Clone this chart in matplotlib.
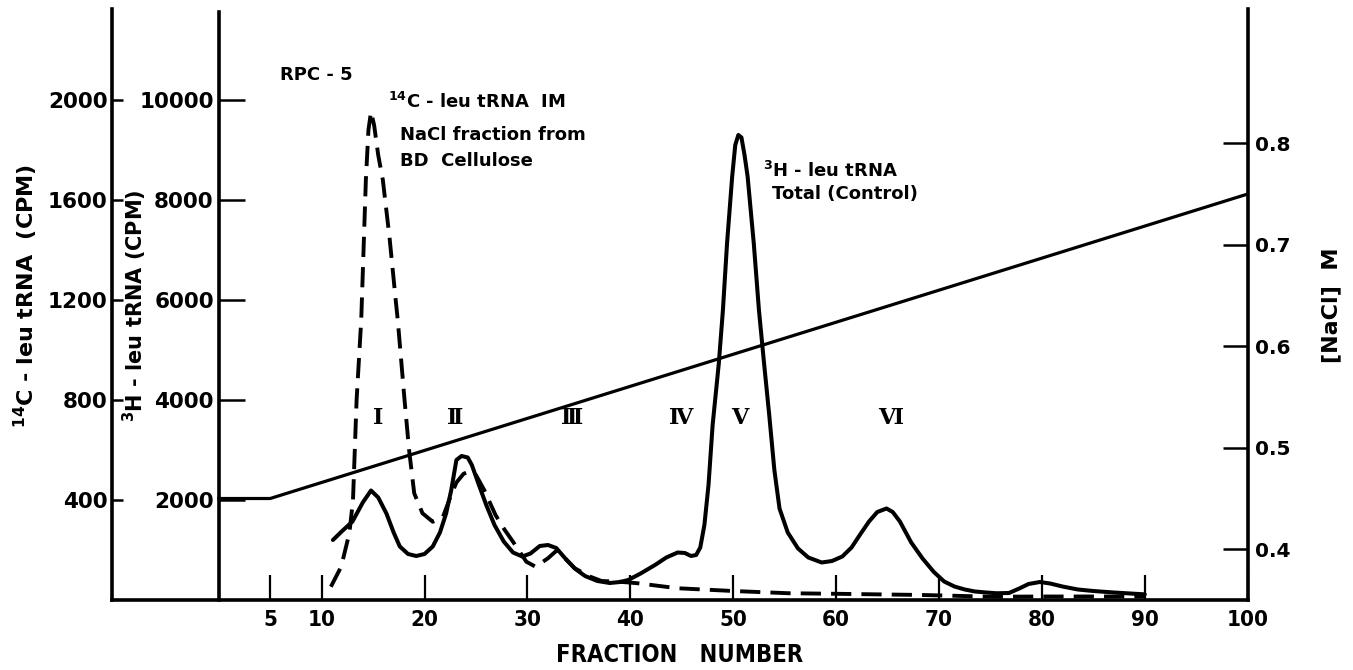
import matplotlib
matplotlib.use("Agg")
import matplotlib.pyplot as plt

# 3H-leu tRNA, total (control), counts per minute by fraction
fractions_3h = [11.1, 12, 13, 14, 14.8, 15.5, 16.3, 17, 17.6, 18.4, 19.2, 20, 20.8,
                21.5, 22.1, 22.6, 23.1, 23.6, 24.2, 24.6, 25.2, 26, 26.8, 27.7, 28.6,
                29.5, 30.3, 31.2, 32, 32.8, 33.6, 34.6, 35.6, 36.8, 38, 39, 39.8, 41,
                42.4, 43.5, 44.6, 45.3, 45.9, 46.4, 46.8, 47.2, 47.6, 48, 48.6, 49,
                49.4, 49.9, 50.2, 50.5, 50.8, 51.1, 51.4, 52, 52.5, 53, 53.5, 54, 54.5,
                55.3, 56.3, 57.3, 58.6, 59.6, 60.6, 61.5, 62.4, 63.2, 64, 64.9, 65.5,
                66.2, 67.3, 68.4, 69.5, 70.5, 71.5, 72.5, 73.5, 74.6, 75.6, 76.8, 77.8,
                78.7, 79.8, 80.8, 82, 83.5, 85, 87, 89, 90]
cpm_3h = [1200, 1380, 1570, 1950, 2190, 2050, 1730, 1350, 1070, 920, 880, 920, 1070,
          1350, 1730, 2200, 2800, 2880, 2850, 2700, 2350, 1900, 1500, 1170, 950,
          870, 930, 1080, 1100, 1040, 850, 630, 480, 380, 340, 360, 400, 530,
          700, 850, 950, 940, 880, 900, 1050, 1500, 2300, 3500, 4730, 5800,
          7130, 8470, 9100, 9300, 9250, 8900, 8470, 7130, 5800, 4730, 3700, 2600, 1830,
          1350, 1030, 850, 750, 780, 870, 1050, 1330, 1570, 1760, 1830, 1760,
          1570, 1150, 830, 560, 370, 270, 210, 170, 150, 135, 140, 230,
          320, 360, 330, 270, 210, 180, 150, 125, 113]

# 14C-leu tRNA, 1M NaCl fraction from BD cellulose, counts per minute by fraction
fractions_14c = [10.9, 11.9, 12.7, 13.05, 13.4, 13.85, 14.3, 14.55, 14.8, 15.1, 15.5,
                 15.95, 16.6, 17.2, 17.4, 18.06, 18.5, 19.0, 19.8, 20.8, 21.8, 22.4,
                 23.1, 23.8, 24.4, 25.0, 25.8, 26.9, 27.8, 28.6, 29.9, 30.8, 32.0,
                 32.9, 33.8, 34.6, 36, 37.2, 39.0, 40.7, 44.6, 50, 55.4, 59.7, 68.4,
                 75.3, 80, 85, 90]
cpm_14c = [53, 133, 268, 400, 800, 1120, 1680, 1880, 1953, 1900, 1780,
           1680, 1450, 1200, 1120, 800, 600, 427, 347, 313, 333, 400,
           470, 505, 515, 500, 440, 340, 280, 233, 153, 133, 167,
           200, 160, 127, 95, 76, 73, 67, 47, 36, 27, 25, 20,
           13, 14, 14, 14]

# NaCl gradient (M)
nacl_fractions = [0, 5, 100]
nacl_molarity = [0.45, 0.45, 0.75]

# Peak labels
peak_names = ["Ⅰ", "Ⅱ", "Ⅲ", "Ⅳ", "Ⅴ", "Ⅵ"]
peak_fractions = [15.5, 23.0, 34.3, 44.9, 50.6, 65.3]

x_ticks = [5, 10, 20, 30, 40, 50, 60, 70, 80, 90, 100]
c14_ticks = [400, 800, 1200, 1600, 2000]
h3_ticks = [2000, 4000, 6000, 8000, 10000]
nacl_ticks = [0.4, 0.5, 0.6, 0.7, 0.8]

W, H = 1353, 670
fig = plt.figure(figsize=(W / 100, H / 100), dpi=100)
fig.patch.set_facecolor("white")


def fx(px):
    return px / W


def fy(py):
    return 1 - py / H


bold = dict(family="DejaVu Sans", weight="bold", color="black")
cond = dict(family="DejaVu Sans", weight="bold", stretch="condensed", color="black")

left_px, right_px, top_px, base_px = 111.7, 1247.7, 9.0, 600.0
ax = fig.add_axes([fx(left_px), fy(base_px), (right_px - left_px) / W,
                   (base_px - top_px) / H])
ax.set_xlim(-10.4, 100)
ax.set_ylim(0, 2364)
ax.patch.set_visible(False)

ax3 = ax.twinx()
ax3.set_ylim(0, 11820)
axn = ax.twinx()
axn.set_ylim(0.35, 0.9323)

spine_w = 2.6
for a in (ax, ax3, axn):
    for s in a.spines.values():
        s.set_visible(False)
        s.set_linewidth(spine_w)

# outer 14C axis and the fraction axis
ax.spines["left"].set_visible(True)
ax.spines["bottom"].set_visible(True)
ax.set_xticks(x_ticks)
ax.set_xticklabels([str(t) for t in x_ticks])
ax.tick_params(axis="x", direction="in", length=18, width=1.6, pad=7)
for lab in ax.get_xticklabels():
    lab.set(**cond, fontsize=16)
ax.set_yticks(c14_ticks)
ax.set_yticklabels([str(t) for t in c14_ticks])
ax.tick_params(axis="y", direction="in", length=8, width=1.8, pad=3)
for lab in ax.get_yticklabels():
    lab.set(**bold, fontsize=15.5)

# inner 3H axis at fraction 0
ax3.spines["left"].set_visible(True)
ax3.spines["left"].set_position(("data", 0))
ax3.spines["left"].set_bounds(0, 11760)
ax3.yaxis.set_ticks_position("left")
ax3.set_yticks(h3_ticks)
ax3.set_yticklabels([str(t) for t in h3_ticks])
ax3.tick_params(axis="y", direction="in", length=19, width=1.8, pad=3.5)
for lab in ax3.get_yticklabels():
    lab.set(**bold, fontsize=15.5)

# NaCl axis on the right
axn.spines["right"].set_visible(True)
axn.set_yticks(nacl_ticks)
axn.set_yticklabels([f"{t:.1f}" for t in nacl_ticks])
axn.tick_params(axis="y", direction="in", length=18, width=1.8, pad=5)
for lab in axn.get_yticklabels():
    lab.set(**bold, fontsize=14.5)

# curves
axn.plot(nacl_fractions, nacl_molarity, color="black", lw=2.3,
         solid_joinstyle="round")
ax3.plot(fractions_3h, cpm_3h, color="black", lw=2.9,
         solid_joinstyle="round", solid_capstyle="round")
ax.plot(fractions_14c, cpm_14c, color="black", lw=2.8, dashes=(5.2, 2.6),
        dash_capstyle="butt")

# peak labels
for name, f in zip(peak_names, peak_fractions):
    ax.text(f, (base_px - 418) * 4, name, ha="center", va="center",
            family=["DejaVu Serif", "DejaVu Sans"], weight="bold",
            fontsize=16, color="black")

# annotations
fig.text(fx(280), fy(80), "RPC - 5", ha="left", va="baseline", **bold, fontsize=13)
fig.text(fx(388), fy(108), r"$^{\mathbf{14}}$C - leu tRNA  IM", ha="left",
         va="baseline", **bold, fontsize=13)
fig.text(fx(400), fy(140), "NaCl fraction from", ha="left", va="baseline",
         **bold, fontsize=13)
fig.text(fx(400), fy(166), "BD  Cellulose", ha="left", va="baseline",
         **bold, fontsize=13)
fig.text(fx(763), fy(177), r"$^{\mathbf{3}}$H - leu tRNA", ha="left",
         va="baseline", **bold, fontsize=13)
fig.text(fx(772), fy(199), "Total (Control)", ha="left", va="baseline",
         **bold, fontsize=13)

# axis titles
fig.text(fx(26), fy(296), r"$^{\mathbf{14}}$C - leu tRNA  (CPM)", rotation=90,
         ha="center", va="center", **bold, fontsize=16)
fig.text(fx(135), fy(306), r"$^{\mathbf{3}}$H - leu tRNA (CPM)", rotation=90,
         ha="center", va="center", **bold, fontsize=15)
fig.text(fx(1331), fy(305), "[NaCl]  M", rotation=90, ha="center", va="center",
         **bold, fontsize=16)
fig.text(fx(680), fy(655), "FRACTION   NUMBER", ha="center", va="center",
         **cond, fontsize=17)

fig.savefig("out.png", dpi=100, facecolor="white")
